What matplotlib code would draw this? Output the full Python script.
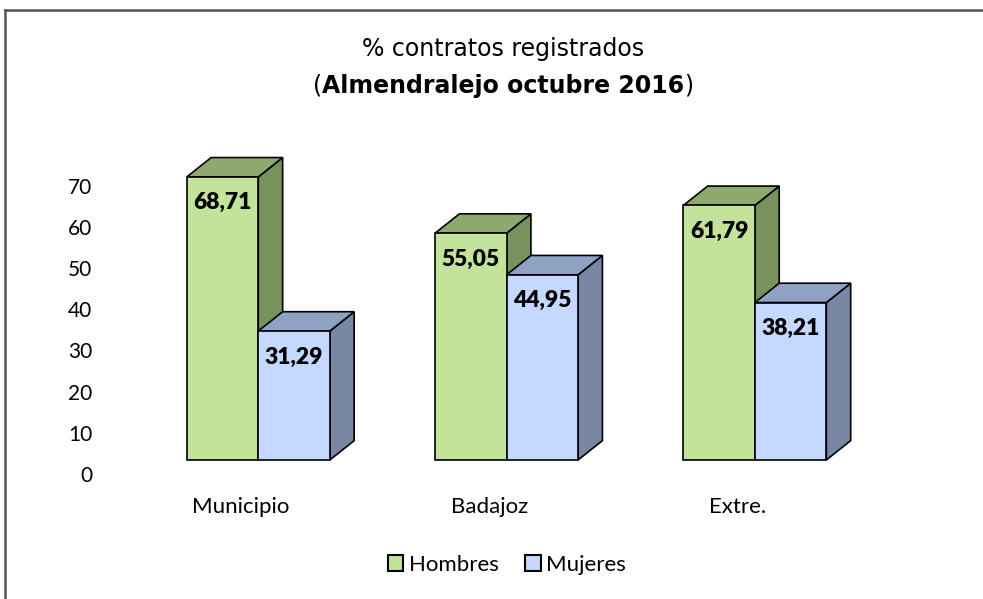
import numpy as np
import matplotlib
matplotlib.use("Agg")
import matplotlib.pyplot as plt
from matplotlib.patches import Patch
from matplotlib.lines import Line2D

# datos
categorias = ["Municipio", "Badajoz", "Extre."]
hombres = [68.71, 55.05, 61.79]
mujeres = [31.29, 44.95, 38.21]
series = ["Hombres", "Mujeres"]
ticks_y = [0, 10, 20, 30, 40, 50, 60, 70]

# colores (frente, arriba, lado)
col_h = ("#C3E29A", "#8FA870", "#77925A")
col_m = ("#C5D8FE", "#8EA2C3", "#7887A3")

fuente = "Lato"
plt.rcParams['font.family'] = [fuente, 'DejaVu Sans']

fig = plt.figure(figsize=(9.83, 5.99), dpi=100)
ax = fig.add_axes([0.1365, 0.1977, 0.7577, 0.5846])
ax.set_xlim(-0.5, 2.5)
ax.set_ylim(-5, 80)

w = 0.288   # ancho barra
dx = 0.098  # profundidad en x
dy = 4.7    # profundidad en y


def barra3d(x0, v, cols, z):
    frente, arriba, lado = cols
    ax.fill([x0 + w, x0 + w + dx, x0 + w + dx, x0 + w],
            [0, dy, v + dy, v], color=lado, ec="black", lw=1.2, zorder=z)
    ax.fill([x0, x0 + dx, x0 + w + dx, x0 + w],
            [v, v + dy, v + dy, v], color=arriba, ec="black", lw=1.2, zorder=z + 0.1)
    ax.bar(x0, v, width=w, align="edge", color=frente, ec="black", lw=1.2, zorder=z + 0.2)
    ax.text(x0 + w / 2, v - 6.3, f"{v:.2f}".replace(".", ","), ha="center", va="center",
            fontsize=16.5, fontweight="heavy", zorder=z + 0.3)


x = np.arange(len(categorias))
for i in x:
    barra3d(i - w, hombres[i], col_h, 2 + i)
    barra3d(i, mujeres[i], col_m, 2.5 + i)

for s in ax.spines.values():
    s.set_visible(False)
ax.set_yticks(np.array(ticks_y) - 3.4, [str(t) for t in ticks_y])
ax.set_xticks(x - 0.07, categorias)
ax.tick_params(axis="y", length=0, pad=30, labelsize=15)
ax.tick_params(axis="x", length=0, pad=12, labelsize=16)

# leyenda
handles = [Patch(facecolor=col_h[0], edgecolor="black", lw=1.5),
           Patch(facecolor=col_m[0], edgecolor="black", lw=1.5)]
fig.legend(handles, series, loc="center", bbox_to_anchor=(507 / 983, 1 - 565 / 599),
           ncol=2, frameon=False, fontsize=16, handlelength=0.7, handleheight=0.7,
           handletextpad=0.25, columnspacing=1.2)

# titulo
fig.text(503 / 983, 1 - 49 / 599, "% contratos registrados", ha="center", va="center",
         fontsize=17, family="DejaVu Sans")
t2 = fig.text(503 / 983, 1 - 86 / 599, "Almendralejo octubre 2016", ha="center", va="center",
              fontsize=17, fontweight="bold", family="DejaVu Sans")
fig.canvas.draw()
bb = t2.get_window_extent().transformed(fig.transFigure.inverted())
fig.text(bb.x0, 1 - 86 / 599, "(", ha="right", va="center", fontsize=17, family="DejaVu Sans")
fig.text(bb.x1, 1 - 86 / 599, ")", ha="left", va="center", fontsize=17, family="DejaVu Sans")

# marco
fig.add_artist(Line2D([5 / 983, 1.01], [1 - 9.5 / 599] * 2, color="#555555", lw=1.8,
                      transform=fig.transFigure))
fig.add_artist(Line2D([5 / 983] * 2, [-0.01, 1 - 9.5 / 599], color="#555555", lw=1.8,
                      transform=fig.transFigure))

fig.savefig("out.png", dpi=100, facecolor="white")
